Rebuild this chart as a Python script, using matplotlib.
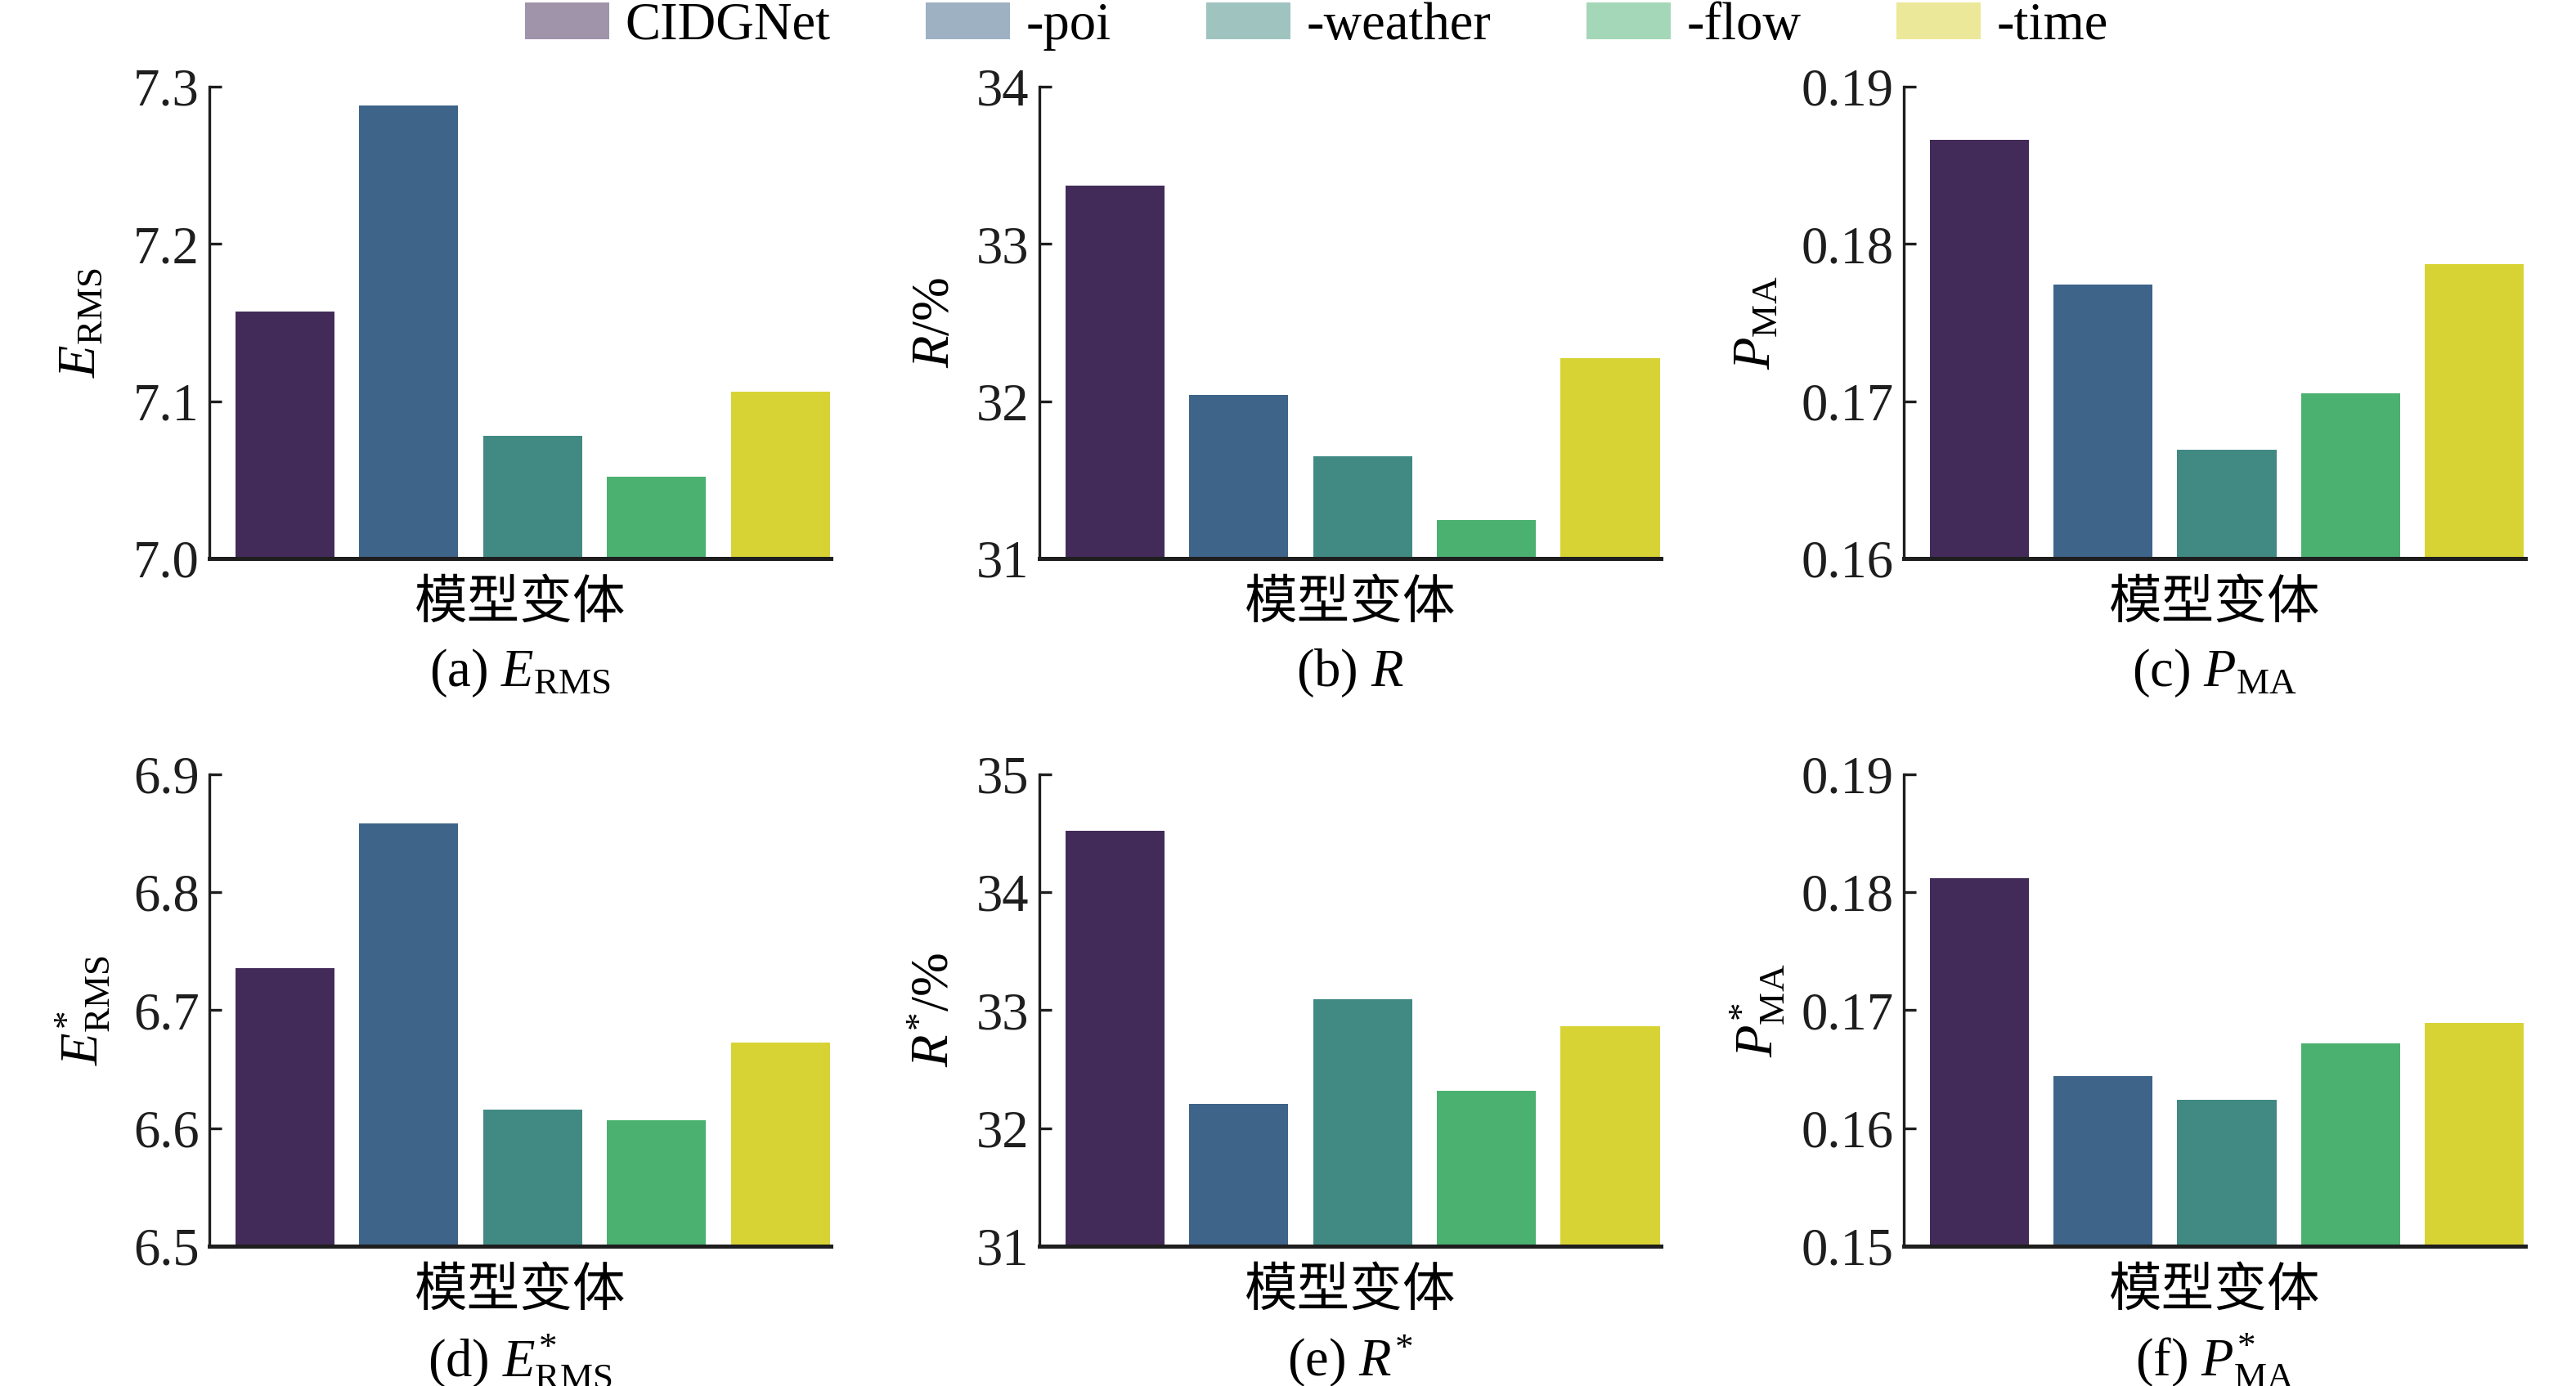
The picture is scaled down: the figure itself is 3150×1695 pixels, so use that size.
import matplotlib
matplotlib.use("Agg")
import matplotlib.pyplot as plt
from matplotlib.patches import Patch

plt.rcParams['font.family'] = ['Liberation Serif', 'Noto Sans CJK SC']
plt.rcParams['mathtext.fontset'] = 'custom'
plt.rcParams['mathtext.rm'] = 'Liberation Serif'
plt.rcParams['mathtext.it'] = 'Liberation Serif:italic'
plt.rcParams['mathtext.bf'] = 'Liberation Serif:bold'

variants = ['CIDGNet', '-poi', '-weather', '-flow', '-time']
colors = ['#422b58', '#3e6489', '#418a83', '#4ab170', '#d8d335']

rmse = [7.157, 7.288, 7.078, 7.052, 7.106]
recall = [33.37, 32.04, 31.65, 31.245, 32.275]
pma = [0.1866, 0.1774, 0.1669, 0.1705, 0.1787]
rmse_s = [6.7355, 6.8585, 6.616, 6.607, 6.6725]
recall_s = [34.52, 32.205, 33.09, 32.32, 32.865]
pma_s = [0.1812, 0.1644, 0.1624, 0.1672, 0.1689]

ticks_a = [7.0, 7.1, 7.2, 7.3]
ticks_b = [31, 32, 33, 34]
ticks_c = [0.16, 0.17, 0.18, 0.19]
ticks_d = [6.5, 6.6, 6.7, 6.8, 6.9]
ticks_e = [31, 32, 33, 34, 35]
ticks_f = [0.15, 0.16, 0.17, 0.18, 0.19]

panels = [
    (rmse, ticks_a, '{:.1f}', r'$E_{\mathrm{RMS}}$', r'(a) $E_{\mathrm{RMS}}$'),
    (recall, ticks_b, '{:.0f}', r'$R$/%', r'(b) $R$'),
    (pma, ticks_c, '{:.2f}', r'$P_{\mathrm{MA}}$', r'(c) $P_{\mathrm{MA}}$'),
    (rmse_s, ticks_d, '{:.1f}', r'$E^{*}_{\mathrm{RMS}}$', r'(d) $E^{*}_{\mathrm{RMS}}$'),
    (recall_s, ticks_e, '{:.0f}', r'$R^{*}$/%', r'(e) $R^{*}$'),
    (pma_s, ticks_f, '{:.2f}', r'$P^{*}_{\mathrm{MA}}$', r'(f) $P^{*}_{\mathrm{MA}}$'),
]

lefts = [0.0813, 0.4035, 0.739]
widths = [0.2413, 0.2413, 0.2413]
bottoms = [0.597, 0.1009]
height = 0.3405
ylabel_x = [-0.205, -0.167, -0.236]

fig = plt.figure(figsize=(10.5, 5.65), dpi=300)
FS = 15.5

for i, (vals, ticks, fmt, ylab, cap) in enumerate(panels):
    r, c = divmod(i, 3)
    ax = fig.add_axes([lefts[c], bottoms[r], widths[c], height])
    x = list(range(len(variants)))
    ax.bar(x, vals, width=0.8, color=colors)
    ax.set_ylim(ticks[0], ticks[-1])
    ax.set_xlim(-0.61, 4.41)
    ax.set_yticks(ticks)
    ax.set_yticklabels([fmt.format(t) for t in ticks], fontsize=FS)
    ax.set_xticks([])
    for s in ['top', 'right']:
        ax.spines[s].set_visible(False)
    ax.spines['left'].set_linewidth(0.8)
    ax.spines['bottom'].set_linewidth(1.2)
    ax.spines['left'].set_color('#1e1e1e')
    ax.spines['bottom'].set_color('#1e1e1e')
    ax.tick_params(axis='y', direction='in', length=3.5, width=0.8, pad=3, colors='#1e1e1e')
    ax.set_ylabel(ylab, fontsize=FS, va='center')
    ax.yaxis.set_label_coords(ylabel_x[c], 0.5)
    ax.text(0.5, -0.095, '模型变体', transform=ax.transAxes, ha='center', va='center',
            fontsize=FS, family=['Noto Sans CJK SC'])
    ax.text(0.5, -0.243, cap, transform=ax.transAxes, ha='center', va='center', fontsize=FS)

handles = [Patch(facecolor=col, alpha=0.5, edgecolor='none') for col in colors]
fig.legend(handles, variants, ncol=5, loc='center', bbox_to_anchor=(0.511, 0.981),
           frameon=False, fontsize=FS, columnspacing=1.8, handlelength=1.6,
           handleheight=0.7, handletextpad=0.3, borderaxespad=0, borderpad=0)

fig.savefig('out.png', dpi=300)
